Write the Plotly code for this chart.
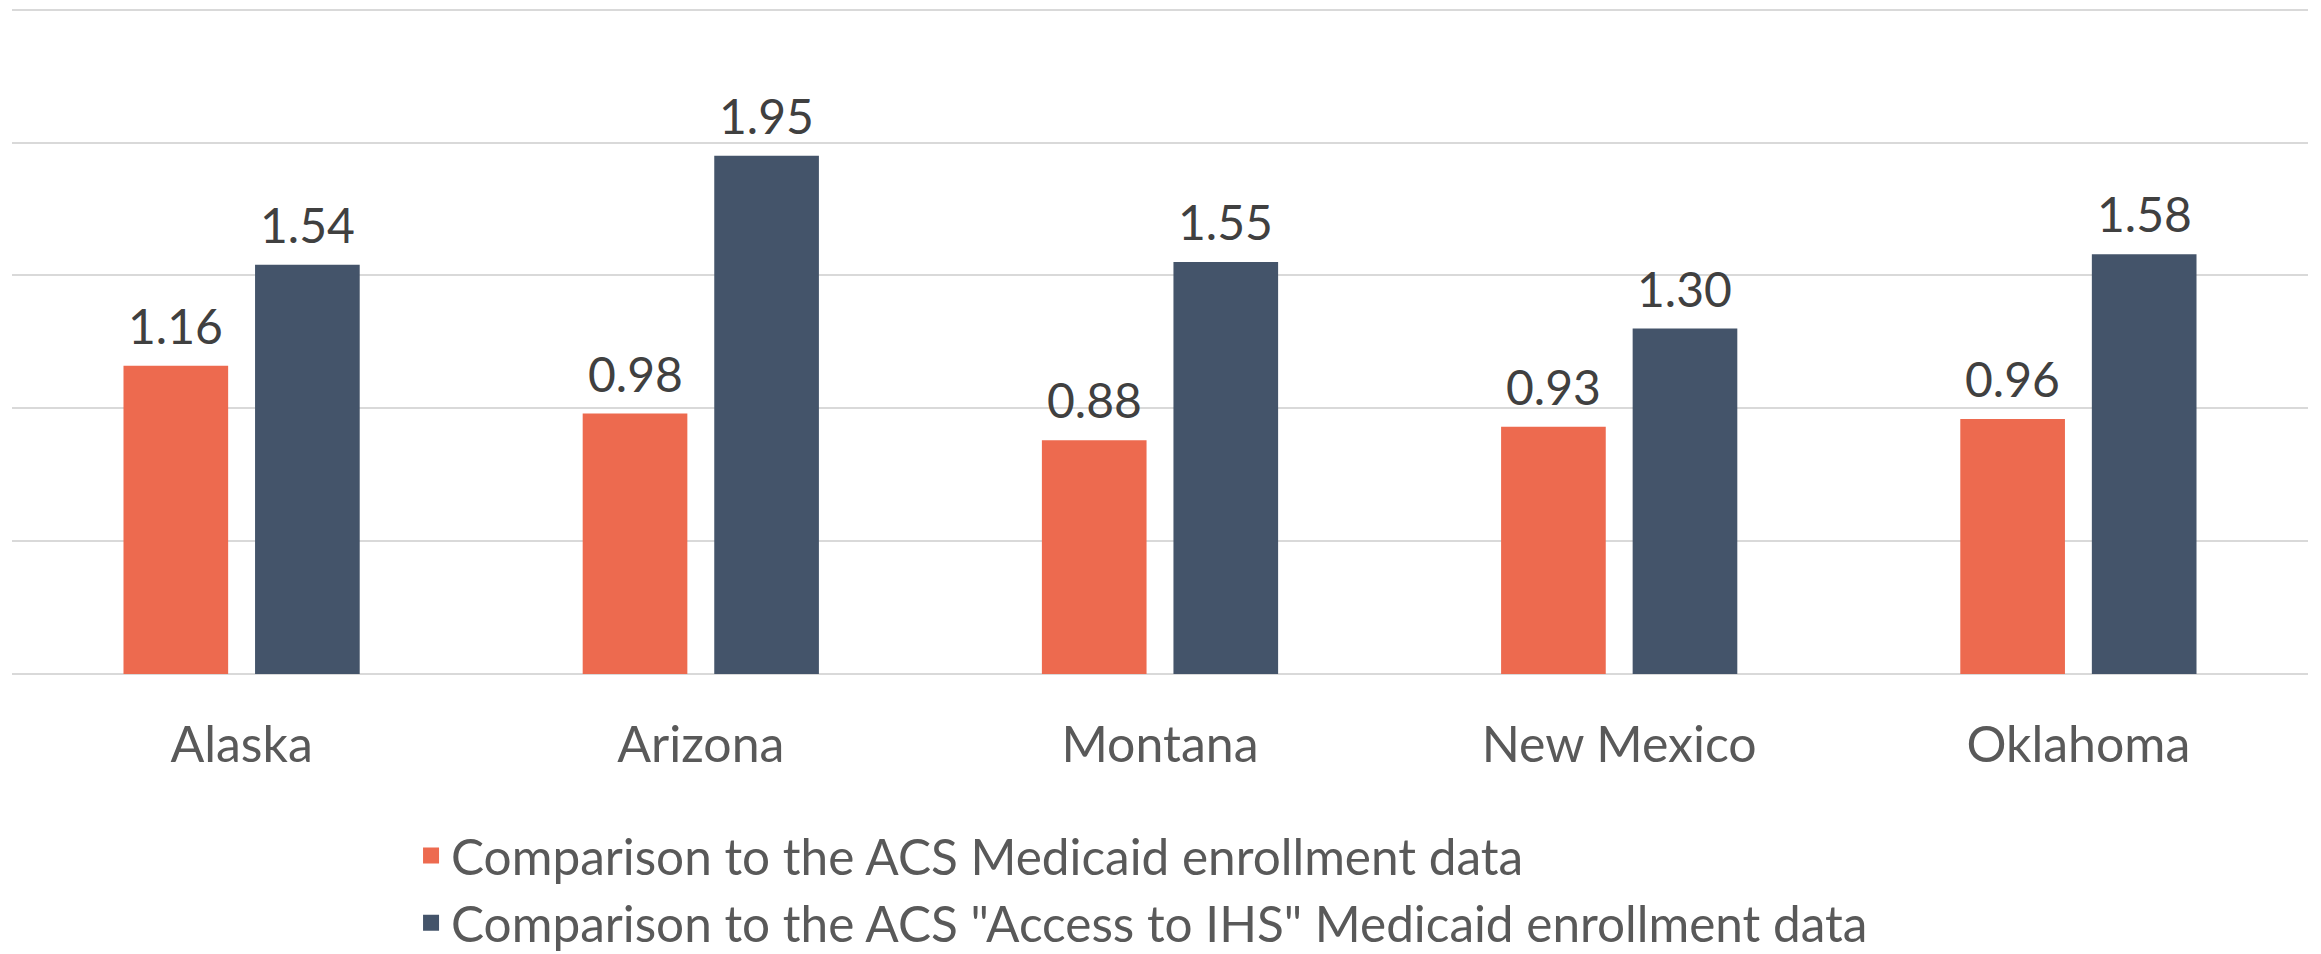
import plotly.graph_objects as go

states = ["Alaska", "Arizona", "Montana", "New Mexico", "Oklahoma"]
acs_medicaid = [1.16, 0.98, 0.88, 0.93, 0.96]
acs_ihs_medicaid = [1.54, 1.95, 1.55, 1.30, 1.58]
series_names = [
    "Comparison to the ACS Medicaid enrollment data",
    'Comparison to the ACS "Access to IHS" Medicaid enrollment data',
]
colors = ["#ED6A4F", "#44546A"]

FONT = "Lato, 'Open Sans', sans-serif"
BARGAP = 0.427
BARGROUPGAP = 0.2045

fig = go.Figure()
for vals, name, col in zip([acs_medicaid, acs_ihs_medicaid], series_names, colors):
    fig.add_trace(go.Bar(
        x=states, y=vals, name=name, showlegend=False,
        marker=dict(color=col, line=dict(width=0)),
        hovertemplate="%{x}: %{y:.2f}<extra></extra>",
    ))
# legend entries (square swatches)
for name, col in zip(series_names, colors):
    fig.add_trace(go.Scatter(
        x=[None], y=[None], name=name, mode="markers",
        marker=dict(symbol="square", size=16, color=col),
    ))

# value labels above each bar (category index +/- half-slot offset)
half = (1 - BARGAP) / 4
for k, vals in enumerate([acs_medicaid, acs_ihs_medicaid]):
    off = -half if k == 0 else half
    for i, v in enumerate(vals):
        fig.add_annotation(
            x=i + off, y=v, xref="x", yref="y",
            text=f"{v:.2f}", showarrow=False,
            xanchor="center", yanchor="bottom", yshift=10,
            font=dict(family=FONT, size=48, color="#404040"),
        )

fig.update_layout(
    width=2321, height=954,
    margin=dict(l=12, r=13, t=7, b=280, autoexpand=False),
    paper_bgcolor="white", plot_bgcolor="white",
    barmode="group", bargap=BARGAP, bargroupgap=BARGROUPGAP,
    font=dict(family=FONT, size=48, color="#595959"),
    showlegend=True,
    legend=dict(
        orientation="v", x=0.1738, xanchor="left", y=-0.214, yanchor="top",
        font=dict(family=FONT, size=49.5, color="#595959"),
        bgcolor="rgba(0,0,0,0)", itemclick=False,
    ),
    xaxis=dict(
        showgrid=False, showline=False, zeroline=False,
        tickfont=dict(family=FONT, size=50, color="#595959"),
        ticks="", ticklabelstandoff=37,
    ),
    yaxis=dict(
        range=[0, 2.51], tickvals=[0.5, 1.0, 1.5, 2.0, 2.5], showticklabels=False,
        showgrid=True, gridcolor="#D9D9D9", gridwidth=2,
        zeroline=True, zerolinecolor="#D9D9D9", zerolinewidth=2,
        showline=False, ticks="",
    ),
)

fig.write_html(
    "out.html",
    config={"displayModeBar": False},
    post_script="document.body.style.margin='0';document.body.style.overflow='hidden';",
)
